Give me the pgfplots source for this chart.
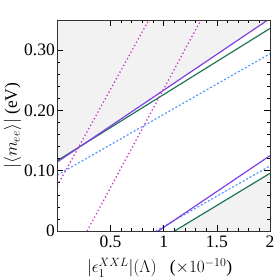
\documentclass[border=0pt]{standalone}
\usepackage{pgfplots}
\pgfplotsset{compat=1.18}
\usepackage{fontspec}
\setmainfont{Liberation Serif}
\definecolor{cpur}{HTML}{7F40E6}
\definecolor{cgrn}{HTML}{207555}
\definecolor{cblu}{HTML}{5599FF}
\definecolor{cmag}{HTML}{CC33CC}
\definecolor{cgray}{HTML}{F2F2F2}
\begin{document}
\begin{tikzpicture}
\useasboundingbox (-57.3pt,-47pt) rectangle (218.7pt,231pt);
\begin{axis}[
  at={(0,0)}, anchor=south west,
  scale only axis, width=212.7pt, height=211pt,
  xmin=0, xmax=2, ymin=0, ymax=0.35,
  xtick={0.5,1,1.5,2}, xticklabels={0.5,1,1.5,2},
  ytick={0,0.1,0.2,0.3}, yticklabels={0,0.10,0.20,0.30},
  minor x tick num=4, minor y tick num=4,
  tick align=inside,
  major tick length=6pt, minor tick length=3pt,
  every tick/.style={black, line width=0.6pt},
  axis line style={line width=0.8pt, black!80},
  axis on top,
  /pgf/number format/assume math mode=true,
  tick label style={font=\fontsize{17.5}{20}\selectfont},
  xticklabel style={yshift=-1pt},
  yticklabel style={xshift=1pt},
  label style={font=\fontsize{17.5}{20}\selectfont},
  xlabel={$|\epsilon_1^{XXL}|(\Lambda)$\ \ \ ($\times 10^{-10}$)},
  ylabel={$|\langle m_{ee}\rangle|$ (eV)},
  xlabel style={yshift=-4pt, xshift=-4pt},
  ylabel style={yshift=-4pt},
]
\addplot[fill=cgray, draw=none] coordinates {(0,0.1167) (0.24,0.1431) (1.98,0.35) (2,0.36) (0,0.36)} -- cycle;
\addplot[fill=cgray, draw=none] coordinates {(1.103,0) (2,0.0957) (2,0)} -- cycle;
% upper branch
\addplot[cblu, line width=1.2pt, dash pattern=on 2pt off 2pt] coordinates {(0,0.0928) (2,0.294)};
\addplot[cgrn, line width=1.2pt] coordinates {(0,0.1167) (2,0.336)};
\addplot[cpur, line width=1.2pt] coordinates {(0,0.1145) (2,0.3525)};
% lower branch
\addplot[cblu, line width=1.2pt, dash pattern=on 2pt off 2pt] coordinates {(0.926,0) (2,0.108)};
\addplot[cgrn, line width=1.2pt] coordinates {(1.103,0) (2,0.0957)};
\addplot[cpur, line width=1.2pt] coordinates {(0.95,0) (2,0.125)};
% magenta dotted
\addplot[cmag, line width=1.3pt, dash pattern=on 1.3pt off 2.5pt] coordinates {(0,0.075) (0.86,0.35)};
\addplot[cmag, line width=1.3pt, dash pattern=on 1.3pt off 2.5pt] coordinates {(0.28,0) (1.35,0.35)};
\end{axis}
\end{tikzpicture}
\end{document}
